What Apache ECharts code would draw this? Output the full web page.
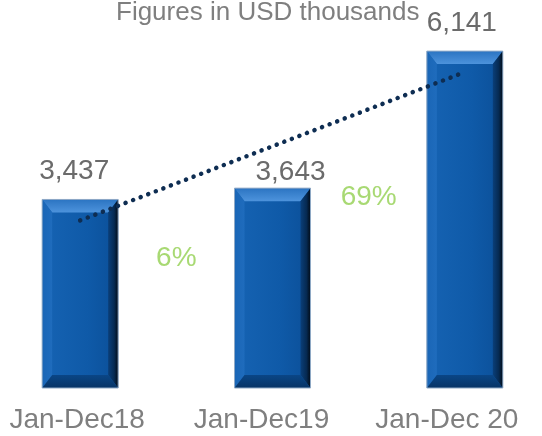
<!DOCTYPE html>
<html>
<head>
<meta charset="utf-8">
<script src="https://cdn.jsdelivr.net/npm/echarts@6/dist/echarts.min.js"></script>
<style>
html, body { margin: 0; padding: 0; background: #ffffff; }
#chart { width: 542px; height: 436px; }
</style>
</head>
<body>
<div id="chart"></div>
<script>
// data
var categories = ['Jan-Dec18', 'Jan-Dec19', 'Jan-Dec 20'];
var revenue = [3437, 3643, 6141];
var trendValues = [3055, 4407, 5759];   // dotted linear trend
var growthText = ['6%', '69%'];
var growthAt = [[0.5, 2370], [1.5, 3475]];

// label nudges (px) as placed in the original slide
var valueShift = [[-6, 0], [18, 12], [-3, 0]];
var catShift = [-3, -11, -18];

var FONT = '"Liberation Sans", Arial, sans-serif';
var GRAY = '#7f7f7f';
var GREEN = '#92d050';

var chart = echarts.init(document.getElementById('chart'), null, { renderer: 'canvas' });

function renderBevel(params, api)
{
	var top = api.coord([api.value(0), api.value(1)]);
	var base = api.coord([api.value(0), 0]);
	var w = api.size([1, 0])[0] * 0.395;
	var x0 = top[0] - w / 2, x1 = top[0] + w / 2;
	var y0 = top[1], y1 = base[1];
	var bx = 10, by = 13;
	var G = echarts.graphic.LinearGradient;
	return {
		type: 'group',
		children: [
			{ type: 'rect', shape: { x: x0, y: y0, width: w, height: y1 - y0 },
			  style: { fill: new G(0, 0, 1, 0, [{ offset: 0, color: '#1663b3' }, { offset: 0.6, color: '#0f5aa8' }, { offset: 1, color: '#0b4f98' }]) } },
			{ type: 'polygon', shape: { points: [[x0, y0], [x1, y0], [x1 - bx, y0 + by], [x0 + bx, y0 + by]] },
			  style: { fill: new G(0, 0, 0, 1, [{ offset: 0, color: '#2b74c2' }, { offset: 1, color: '#4d93dc' }]) } },
			{ type: 'polygon', shape: { points: [[x0, y0], [x0 + bx, y0 + by], [x0 + bx, y1 - by], [x0, y1]] },
			  style: { fill: new G(0, 0, 1, 0, [{ offset: 0, color: '#1a66b6' }, { offset: 1, color: '#1f6cbd' }]) } },
			{ type: 'polygon', shape: { points: [[x1, y0], [x1, y1], [x1 - bx, y1 - by], [x1 - bx, y0 + by]] },
			  style: { fill: new G(0, 0, 1, 0, [{ offset: 0, color: '#0a3f7a' }, { offset: 0.6, color: '#062a52' }, { offset: 1, color: '#010b16' }]) } },
			{ type: 'polygon', shape: { points: [[x0, y1], [x0 + bx, y1 - by], [x1 - bx, y1 - by], [x1, y1]] },
			  style: { fill: new G(0, 0, 0, 1, [{ offset: 0, color: '#0a4686' }, { offset: 1, color: '#073466' }]) } },
			{ type: 'rect', shape: { x: x0, y: y0, width: w, height: y1 - y0 },
			  style: { fill: null, stroke: '#8fa9c6', lineWidth: 1 } }
		]
	};
}

var valueData = revenue.map(function (v, i) {
	return { value: v, label: { offset: valueShift[i] } };
});

var catRich = {};
catShift.forEach(function (s, i) {
	catRich['c' + i] = { fontSize: 28, fontFamily: FONT, color: GRAY, padding: [0, -2 * s, 0, 0] };
});

var option = {
	animation: false,
	backgroundColor: '#ffffff',
	title: {
		text: 'Figures in USD thousands',
		left: 111,
		top: -5,
		textStyle: { fontFamily: FONT, fontSize: 26, fontWeight: 'normal', color: GRAY }
	},
	grid: { left: -16, right: -19, top: 4, bottom: 48, outerBoundsMode: 'none', containLabel: false },
	xAxis: [
		{
			type: 'category',
			data: categories,
			axisLine: { show: false },
			axisTick: { show: false },
			axisLabel: {
				margin: 18,
				formatter: function (val, idx) { return '{c' + idx + '|' + val + '}'; },
				rich: catRich
			}
		},
		{ type: 'value', min: -0.5, max: 2.5, show: false }
	],
	yAxis: { type: 'value', min: 0, max: 7000, show: false },
	series: [
		{
			type: 'bar',
			data: valueData,
			barWidth: '39.5%',
			itemStyle: { color: 'rgba(0,0,0,0)' },
			label: {
				show: true,
				position: 'top',
				distance: 14,
				fontFamily: FONT,
				fontSize: 28,
				color: '#6b6b6b',
				formatter: function (p) { return p.value.toLocaleString('en-US'); }
			},
			z: 1
		},
		{
			type: 'custom',
			renderItem: renderBevel,
			data: revenue.map(function (v, i) { return [i, v]; }),
			encode: { x: 0, y: 1 },
			z: 2
		},
		{
			type: 'line',
			data: trendValues,
			symbol: 'none',
			lineStyle: { color: '#0e2d52', width: 4.5, type: [0.1, 8], cap: 'round' },
			z: 5
		},
		{
			type: 'scatter',
			xAxisIndex: 1,
			data: growthAt,
			symbolSize: 0,
			label: {
				show: true,
				position: 'inside',
				fontFamily: FONT,
				fontSize: 28,
				color: GREEN,
				formatter: function (p) { return growthText[p.dataIndex]; }
			},
			z: 6
		}
	]
};

chart.setOption(option);
</script>
</body>
</html>
